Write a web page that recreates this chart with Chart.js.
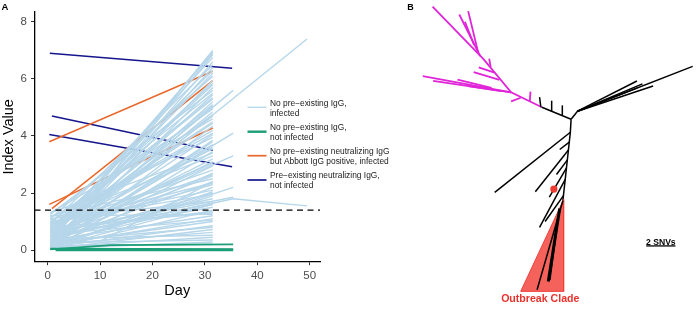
<!DOCTYPE html>
<html>
<head>
<meta charset="utf-8">
<script src="https://cdn.jsdelivr.net/npm/chart.js@4.4.0/dist/chart.umd.min.js"></script>
<style>
  body { margin: 0; background: #fff; }
  #wrap { position: relative; width: 697px; height: 309px; }
  #chartA { position: absolute; left: 0; top: 0; }
  #chartB { position: absolute; left: 400px; top: 0; }
</style>
</head>
<body>
<div id="wrap">
  <canvas id="chartA" width="400" height="309"></canvas>
  <canvas id="chartB" width="297" height="309"></canvas>
</div>
<script>
// ---- panel A: antibody index value by day ----
const xTicks = [0, 10, 20, 30, 40, 50];
const yTicks = [0, 2, 4, 6, 8];
const cutoff = 1.4;

// each line is day, value, day, value, ...
const infected = [
  [0.5, 0.05, 31.5, 7.0], [0.5, 0.3, 31.5, 6.95], [0.7, 0.1, 31.5, 6.85], [0.5, 0.6, 31.5, 6.75],
  [1.0, 0.2, 31.5, 6.6], [0.5, 0.9, 31.5, 6.5], [0.5, 0.15, 31.5, 6.4], [0.8, 0.45, 31.5, 6.2],
  [0.5, 1.1, 31.5, 6.1], [0.5, 0.25, 31.5, 5.95], [0.6, 0.7, 31.5, 5.85], [0.5, 0.05, 31.5, 5.7],
  [0.5, 1.25, 31.5, 5.6], [0.9, 0.35, 31.5, 5.45], [0.5, 0.8, 31.5, 5.35], [0.5, 0.1, 31.5, 5.2],
  [0.7, 0.55, 31.5, 5.1], [0.5, 1.0, 31.5, 4.95], [0.5, 0.2, 31.5, 4.85], [1.2, 0.4, 31.5, 4.7],
  [0.5, 1.3, 31.5, 4.6], [0.5, 0.65, 31.5, 4.45], [0.5, 0.05, 31.5, 4.35], [0.8, 0.9, 31.5, 4.2],
  [0.5, 0.3, 31.5, 4.05], [0.5, 1.15, 31.5, 3.95], [0.6, 0.15, 31.5, 3.8], [0.5, 0.5, 31.5, 3.7],
  [0.5, 0.75, 31.5, 3.55], [1.0, 0.05, 31.5, 3.45], [0.5, 1.05, 31.5, 3.3], [0.5, 0.35, 31.5, 3.2],
  [0.7, 0.6, 31.5, 3.05], [0.5, 0.2, 31.5, 2.95], [0.5, 0.85, 31.5, 2.8], [0.5, 0.1, 31.5, 2.7],
  [0.9, 0.45, 31.5, 2.6], [0.5, 1.2, 31.5, 2.5], [0.5, 0.3, 31.5, 2.4], [0.5, 0.7, 31.5, 2.3],
  [0.6, 0.05, 31.5, 2.2], [0.5, 0.95, 31.5, 2.1], [0.5, 0.4, 31.5, 2.0], [0.8, 0.15, 31.5, 1.9],
  [0.5, 0.6, 31.5, 1.8], [0.5, 1.1, 31.5, 1.7], [0.5, 0.25, 31.5, 1.6], [0.7, 0.5, 31.5, 1.5],
  [0.5, 0.05, 31.5, 1.4], [0.5, 0.8, 31.5, 1.3], [0.5, 0.35, 31.5, 1.2], [0.6, 0.15, 31.5, 1.1],
  [0.5, 0.55, 31.5, 1.05], [0.5, 0.1, 31.5, 0.85], [0.5, 0.3, 31.5, 0.8], [0.8, 0.05, 31.5, 0.72],
  [0.5, 0.2, 31.5, 0.62], [0.5, 0.4, 31.5, 0.52], [0.5, 0.1, 31.5, 0.45], [0.6, 0.25, 31.5, 0.35],
  [0.5, 0.05, 31.5, 0.28], [0.5, 0.15, 31.5, 0.2],
  [0.5, 0.45, 31.5, 6.9], [0.5, 0.75, 31.5, 6.3], [0.5, 0.5, 31.5, 5.8], [0.5, 0.95, 31.5, 5.5],
  [0.5, 0.2, 31.5, 5.05], [0.5, 0.6, 31.5, 4.75], [0.5, 0.85, 31.5, 4.1], [0.5, 0.1, 31.5, 3.85],
  [0.5, 1.3, 31.5, 3.4], [0.5, 0.3, 31.5, 3.1], [0.5, 0.65, 31.5, 2.65], [0.5, 0.9, 31.5, 2.35],
  [0.5, 0.05, 31.5, 2.05], [0.5, 1.0, 31.5, 1.95], [0.5, 0.45, 31.5, 1.65], [0.5, 0.7, 31.5, 1.35],
  [0.5, 1.2, 31.5, 1.25], [0.5, 0.2, 31.5, 1.0], [2.0, 0.9, 31.5, 4.5], [3.0, 1.1, 31.5, 5.3],
  [7.0, 0.4, 31.5, 1.6], [10.0, 0.3, 31.5, 2.4], [4.0, 0.6, 31.5, 3.6],
  [0.5, 0.3, 35.4, 5.6], [0.5, 0.2, 35.4, 4.1], [0.5, 0.5, 35.4, 3.3], [0.5, 0.1, 35.4, 2.2],
  [0.5, 0.6, 35.4, 1.85],
  [0.5, 0.15, 49.5, 7.4],
  [0.5, 0.4, 35.4, 1.8, 49.5, 1.55]
];
const notInfected = [
  [1.5, 0.0, 35.4, 0.0],
  [0.5, 0.05, 35.4, 0.03],
  [0.5, 0.02, 12.0, 0.17, 35.4, 0.2]
];
const abbottPositive = [
  [0.3, 3.8, 31.5, 6.27],
  [0.3, 1.6, 31.5, 4.28],
  [0.8, 1.45, 31.5, 5.94]
];
const neutralizing = [
  [0.4, 6.9, 35.2, 6.38],
  [0.8, 4.7, 31.5, 3.5],
  [0.3, 4.05, 35.2, 2.92]
];

const legendLabels = [
  ['No pre\u2212existing IgG,', 'infected'],
  ['No pre\u2212existing IgG,', 'not infected'],
  ['No pre\u2212existing neutralizing IgG', 'but Abbott IgG positive, infected'],
  ['Pre\u2212existing neutralizing IgG,', 'not infected']
];
const colors = ['#b6d6ea', '#1b9e77', '#e9682b', '#15158c'];
const widths = [1.4, 2.2, 1.5, 1.5];

// ---- panel B: unrooted tree, coordinates in SNVs from the central node ----
const magentaBranches = [
  [-9.49, 7.71, -6.0, 4.11, -4.11, 1.84, -2.0, 0.82],
  [-4.11, 1.84, -10.16, 2.95],
  [-4.11, 1.84, -9.45, 2.62],
  [-5.45, 2.15, -7.78, 2.71],
  [-4.78, 1.93, -7.05, 2.27],
  [-4.91, 2.69, -6.67, 3.22],
  [-5.25, 3.19, -6.33, 3.55],
  [-5.51, 3.59, -5.61, 4.15],
  [-6.23, 4.33, -7.66, 7.17],
  [-6.37, 4.59, -7.05, 7.4],
  [-6.65, 5.09, -7.27, 6.67],
  [-2.83, 1.22, -2.78, 1.89],
  [-3.45, 1.47, -4.11, 1.22]
];
const blackBranches = [
  [-2.0, 0.82, 0, 0],
  [-2.07, 0.82, -2.16, 1.51],
  [-1.33, 0.53, -1.33, 1.27],
  [-0.6, 0.27, -0.6, 0.95],
  [0, 0, 0.44, 0.55],
  [0.44, 0.55, 8.33, 3.62],
  [0.44, 0.55, 4.51, 2.62],
  [0.44, 0.55, 5.62, 2.27],
  [0.44, 0.55, 4.55, 2.15],
  [0.44, 0.55, 4.89, 2.42],
  [0, 0, -0.05, -0.89, -0.56, -5.56],
  [-0.05, -0.89, -5.23, -5.0],
  [-0.12, -1.56, -0.78, -2.07],
  [-0.18, -2.11, -2.45, -4.96],
  [-0.25, -2.78, -1.0, -3.78],
  [-0.31, -3.33, -1.49, -5.33],
  [-0.4, -4.11, -2.16, -7.4],
  [-0.52, -5.23, -1.78, -7.0]
];
const cladeBranches = [
  [-0.56, -5.56, -2.33, -11.67],
  [-0.89, -6.78, -1.45, -11.0],
  [-0.78, -6.11, -1.56, -11.11]
];
const cladeWedge = [-0.51, -5.49, -0.51, -11.78, -3.45, -11.78, -0.51, -5.49];
const sampleDot = [-1.18, -4.78];
const scaleBar = [5.15, -8.67, 7.15, -8.67];
const cladeLabelAt = [-2.11, -12.51];
const scaleLabelAt = [6.15, -8.6];

function toPoints(arr) {
  const pts = [];
  for (let i = 0; i < arr.length; i += 2) pts.push({x: arr[i], y: arr[i + 1]});
  return pts;
}

function lineSet(arr, color, width, extra) {
  return Object.assign({
    data: toPoints(arr), showLine: true, borderColor: color, borderWidth: width,
    pointRadius: 0, fill: false, tension: 0
  }, extra || {});
}

const FONT = 'Liberation Sans, Arial, Helvetica, sans-serif';

// ---- build panel A ----
const dsA = [];
dsA.push(lineSet([-2.52, cutoff, 51.97, cutoff], '#000', 1.3, {borderDash: [6, 4.5]}));
notInfected.forEach((l, i) => dsA.push(lineSet(l, colors[1], i === 0 ? 2.6 : 1.8)));
infected.forEach(l => dsA.push(lineSet(l, colors[0], widths[0])));
abbottPositive.forEach(l => dsA.push(lineSet(l, colors[2], widths[2])));
neutralizing.forEach(l => dsA.push(lineSet(l, colors[3], widths[3])));

const decorA = {
  id: 'decorA',
  afterDraw(chart) {
    const c = chart.ctx;
    c.save();
    c.fillStyle = '#000';
    c.font = 'bold 9.5px ' + FONT;
    c.textBaseline = 'alphabetic';
    c.fillText('A', 1.5, 9.5);
    // legend
    const keyY = [107.3, 131.7, 155.7, 180];
    c.font = '8.4px ' + FONT;
    c.textBaseline = 'middle';
    legendLabels.forEach((lab, i) => {
      c.strokeStyle = colors[i];
      c.lineWidth = i === 0 ? 1.3 : widths[i] + 0.2;
      c.beginPath();
      c.moveTo(247.5, keyY[i]);
      c.lineTo(266.5, keyY[i]);
      c.stroke();
      c.fillStyle = '#1a1a1a';
      c.fillText(lab[0], 270, keyY[i] - 3.9);
      c.fillText(lab[1], 270, keyY[i] + 5.9);
    });
    c.restore();
  }
};

new Chart(document.getElementById('chartA'), {
  type: 'scatter',
  data: {datasets: dsA},
  options: {
    responsive: false,
    animation: false,
    events: [],
    devicePixelRatio: 1,
    layout: {padding: {left: 0, top: 12, right: 80, bottom: 0}},
    plugins: {legend: {display: false}, tooltip: {enabled: false}},
    scales: {
      x: {
        type: 'linear', min: -2.52, max: 51.97,
        afterBuildTicks: s => { s.ticks = xTicks.map(v => ({value: v})); },
        afterFit: s => { s.height = 47.3; },
        grid: {drawOnChartArea: false, drawTicks: true, tickLength: 3.5, color: '#333', lineWidth: 1},
        border: {display: true, color: '#000', width: 1.3},
        ticks: {color: '#4d4d4d', font: {size: 11.5, family: FONT}, padding: 4, maxRotation: 0},
        title: {display: true, text: 'Day', color: '#000', font: {size: 14.5, family: FONT}, padding: {top: 0, bottom: 9}}
      },
      y: {
        type: 'linear', min: -0.41, max: 8.35,
        afterBuildTicks: s => { s.ticks = yTicks.map(v => ({value: v})); },
        afterFit: s => { s.width = 34.5; },
        grid: {drawOnChartArea: false, drawTicks: true, tickLength: 3.5, color: '#333', lineWidth: 1},
        border: {display: true, color: '#000', width: 1.3},
        ticks: {color: '#4d4d4d', font: {size: 11.5, family: FONT}, padding: 4},
        title: {display: true, text: 'Index Value', color: '#000', font: {size: 14.5, family: FONT}, padding: {top: 0, bottom: 0}}
      }
    }
  },
  plugins: [decorA]
});

// ---- build panel B ----
const dsB = [];
dsB.push({
  data: [{x: sampleDot[0], y: sampleDot[1]}], showLine: false,
  pointRadius: 3.6, pointBackgroundColor: '#ee3b34', pointBorderWidth: 0
});
dsB.push(lineSet(scaleBar, '#000', 1.3));
cladeBranches.forEach((l, i) => dsB.push(lineSet(l, '#000', i === 2 ? 3 : 1.5)));
dsB.push(lineSet(cladeWedge, '#f0403a', 1, {fill: 'shape', backgroundColor: '#f5625b'}));
blackBranches.forEach(l => dsB.push(lineSet(l, '#000', 1.5)));
magentaBranches.forEach(l => dsB.push(lineSet(l, '#e024d8', 1.8)));

const decorB = {
  id: 'decorB',
  afterDraw(chart) {
    const c = chart.ctx, xs = chart.scales.x, ys = chart.scales.y;
    c.save();
    c.fillStyle = '#000';
    c.font = 'bold 9px ' + FONT;
    c.textBaseline = 'alphabetic';
    c.fillText('B', 7.3, 10.2);
    c.textAlign = 'center';
    c.font = 'bold 8.6px ' + FONT;
    c.fillText('2 SNVs', xs.getPixelForValue(scaleLabelAt[0]), ys.getPixelForValue(scaleLabelAt[1]));
    c.fillStyle = '#e8322c';
    c.font = 'bold 10.6px ' + FONT;
    c.fillText('Outbreak Clade', xs.getPixelForValue(cladeLabelAt[0]), ys.getPixelForValue(cladeLabelAt[1]));
    c.restore();
  }
};

new Chart(document.getElementById('chartB'), {
  type: 'scatter',
  data: {datasets: dsB},
  options: {
    responsive: false,
    animation: false,
    events: [],
    devicePixelRatio: 1,
    layout: {padding: 0},
    plugins: {legend: {display: false}, tooltip: {enabled: false}},
    scales: {
      x: {type: 'linear', min: -11.447, max: 8.353, display: false},
      y: {type: 'linear', min: -12.713, max: 7.887, display: false}
    }
  },
  plugins: [decorB]
});
</script>
</body>
</html>
